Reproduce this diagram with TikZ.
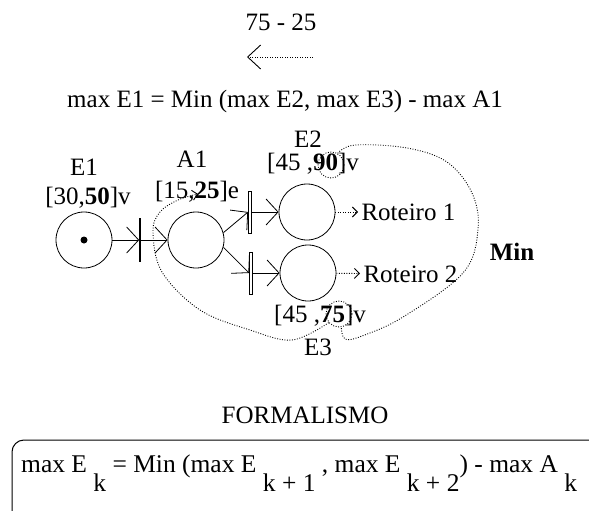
\documentclass[tikz,border=0pt]{standalone}
\usepackage{fontspec}
\setmainfont{Liberation Serif}
\usetikzlibrary{arrows.meta}
\newcommand\lowsub[1]{\raisebox{-19pt}{#1}}
\tikzset{
  place/.style={circle, draw, line width=0.8pt, minimum size=56pt, inner sep=0pt},
  token/.style={circle, fill=black, inner sep=0pt, minimum size=7pt},
  trans/.style={fill=black, inner sep=0pt, minimum width=1.2pt, minimum height=44pt},
  transd/.style={draw, line width=0.8pt, inner sep=0pt, minimum width=3pt, minimum height=42pt},
  arc/.style={line width=0.8pt, -{Straight Barb[length=12pt, width=26pt]}},
  dots/.style={line width=0.9pt, dash pattern=on 0.9pt off 1.6pt},
  dotarc/.style={dots, -{Straight Barb[length=5pt, width=10pt]}},
  ring/.style={circle, draw, dots, minimum size=26pt, inner sep=0pt},
  lbl/.style={inner sep=0pt}
}

\begin{document}
\begin{tikzpicture}[x=1pt, y=-1pt, font=\fontsize{25}{29}\selectfont]
    \useasboundingbox (0,0) rectangle (589,511);
    \clip (0,0) rectangle (589,511);

    % Header
    \node[lbl] (diff) at (281,22) {75 - 25};
    \coordinate (back1) at (313,57);
    \coordinate (back2) at (247,57);
    \draw[dots, -{Straight Barb[length=13pt, width=24pt]}] (back1) -- (back2);
    \node[lbl, anchor=base] (rule) at (285,107) {max E1 = Min (max E2, max E3) - max A1};

    % Places
    \node[place] (e1) at (84,240) {};
    \node[token] (tok) at (e1) {};
    \node[place] (a1) at (196,240) {};
    \node[place] (e2) at (307,212) {};
    \node[place] (e3) at (308,273) {};

    % Transitions
    \node[trans] (t1) at (140,240) {};
    \node[transd] (t2) at (250,212) {};
    \node[transd] (t3) at (251,273) {};

    % Arcs
    \draw[arc] (e1) -- (t1);
    \draw[arc] (t1) -- (a1);
    \draw[arc] (a1.15) -- (t2.west);
    \draw[arc] (a1.-15) -- (t3.west);
    \draw[arc] (t2) -- (e2);
    \draw[arc] (t3) -- (e3);

    % Labels
    \node (e1n) at (84,167) {E1};
    \node (e1v) at (88,198) {[30,\textbf{50}]v};
    \node (a1n) at (192,159) {A1};
    \node (a1v) at (197,192) {[15,\textbf{25}]e};
    \node (e2n) at (308,139) {E2};
    \node (e2v) at (313,164) {[45 ,\textbf{90}]v};
    \node (e3v) at (320,316) {[45 ,\textbf{75}]v};
    \node (e3n) at (318,347) {E3};

    % Routes
    \node[anchor=west] (r1) at (358,212) {Roteiro 1};
    \node[anchor=west] (r2) at (360,274) {Roteiro 2};
    \draw[dotarc] (e2) -- (r1);
    \draw[dotarc] (e3) -- (r2);
    \node[font=\fontsize{25}{29}\selectfont\bfseries] (mn) at (512,252) {Min};

    % Min and back curves
    \node[ring] (r90) at (331,165) {};
    \node[ring] (r75) at (339,314) {};
    \coordinate (t25) at (198,194);
    \draw[dots] plot[smooth, tension=0.6] coordinates {(r90.60) (355,145) (407,148) (447,162) (472,193) (478,230) (463,273) (403,317) (362,336) (345,339) (r75.-80)};
    \draw[dotarc] plot[smooth, tension=0.6] coordinates {(r75.220) (292,340) (250,330) (200,310) (162,272) (153,232) (160,212) (178,200) (t25)};

    % Formalism
    \node[lbl] (title) at (305,415) {FORMALISMO};
    \draw[line width=1pt, rounded corners=12pt] (12,440) rectangle (602,545);
    \node[lbl, anchor=base west, font=\fontsize{25.5}{29}\selectfont] (formula) at (21,472) {max E \lowsub{k} = Min (max E \lowsub{k + 1} , max E \lowsub{k + 2}) - max A \lowsub{k}};
\end{tikzpicture}
\end{document}
